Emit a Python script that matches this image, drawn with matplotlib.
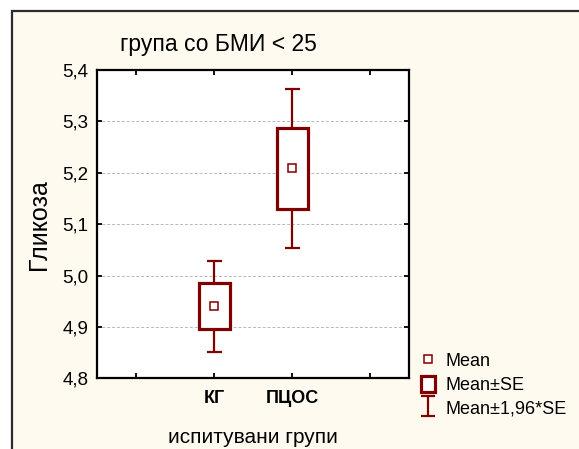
import numpy as np
import matplotlib
matplotlib.use('Agg')
import matplotlib.pyplot as plt
from matplotlib.lines import Line2D
from matplotlib.patches import Patch, Rectangle
from matplotlib.path import Path

plt.rcParams['font.family'] = ['Liberation Sans', 'DejaVu Sans']

groups = ['КГ', 'ПЦОС']
means = [4.940, 5.209]
se = [0.045, 0.079]
y_ticks = [4.8, 4.9, 5.0, 5.1, 5.2, 5.3, 5.4]
y_labels = ['4,8', '4,9', '5,0', '5,1', '5,2', '5,3', '5,4']

maroon = '#800000'
cream = '#fffaf0'

fig = plt.figure(figsize=(5.79, 4.49), dpi=100)
fig.patch.set_facecolor('white')

# panel frame behind everything
frame = Rectangle((11.5 / 579, -0.1), 1.2, (449 - 11.5) / 449 + 0.1,
                  transform=fig.transFigure, facecolor=cream,
                  edgecolor='#2b2b2b', lw=1.6, zorder=-10)
fig.patches.append(frame)

ax = fig.add_axes([97.3 / 579, 1 - 378.3 / 449, (409 - 97.3) / 579, (378.3 - 70) / 449])
ax.set_facecolor('white')

x = np.arange(1, len(groups) + 1)
m = np.array(means)
s = np.array(se)

ax.errorbar(x, m, yerr=1.96 * s, fmt='none', ecolor=maroon, elinewidth=1.6,
            capsize=5.4, capthick=1.6, zorder=2)
ax.bar(x, 2 * s, bottom=m - s, width=0.4, facecolor='white', edgecolor=maroon,
       lw=2.3, zorder=3)
ax.plot(x, m, 's', mfc='white', mec=maroon, mew=1.1, ms=5.5, zorder=4)

ax.set_xlim(-0.5, 3.5)
ax.set_ylim(4.8, 5.4)
ax.set_xticks([0, 1, 2, 3])
ax.set_xticklabels(['', groups[0], groups[1], ''], fontweight='bold', fontsize=13)
ax.set_yticks(y_ticks)
ax.set_yticklabels(y_labels, fontsize=13.5)
ax.tick_params(direction='in', length=3.5, width=1.3, top=True, right=True, pad=6.5)
ax.tick_params(axis='x', pad=8.5)
for sp in ax.spines.values():
    sp.set_linewidth(1.6)
ax.yaxis.grid(True, color='#b8b8b8', linestyle=(0, (3, 2)), lw=0.7)
ax.set_axisbelow(True)

ax.set_ylabel('Гликоза', fontsize=18, labelpad=8)
ax.set_xlabel('испитувани групи', fontsize=15, labelpad=15)
fig.text(218 / 579, 1 - 45 / 449, 'група со БМИ < 25', fontsize=16.5,
         ha='center', va='center')

# legend with an I-beam handle for the 1.96*SE interval
ibeam = Path([(-0.7, 1), (0.7, 1), (0, 1), (0, -1), (-0.7, -1), (0.7, -1)],
             [Path.MOVETO, Path.LINETO, Path.MOVETO, Path.LINETO, Path.MOVETO, Path.LINETO])
handles = [
    Line2D([], [], marker='s', ls='none', mfc='white', mec=maroon, mew=1.1, ms=5.5),
    Patch(facecolor='white', edgecolor=maroon, lw=2.3),
    Line2D([], [], marker=ibeam, ls='none', mec=maroon, mew=1.6, ms=14.5),
]
fig.legend(handles, ['Mean', 'Mean±SE', 'Mean±1,96*SE'], loc='upper left',
           bbox_to_anchor=(421 / 579, 1 - 352 / 449), frameon=False, fontsize=13,
           handlelength=0.8, handleheight=1.0, handletextpad=0.55, labelspacing=0.3,
           borderaxespad=0, borderpad=0)

fig.savefig('out.png', dpi=100)
